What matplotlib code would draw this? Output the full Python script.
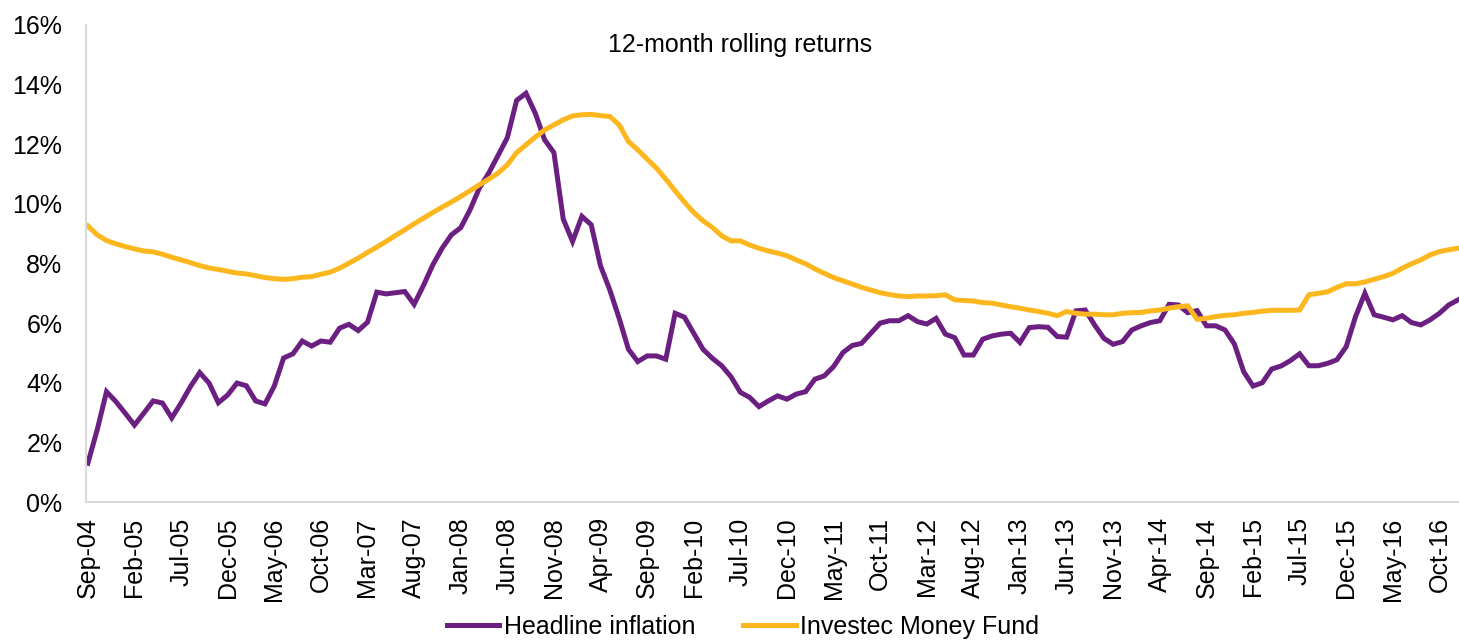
import matplotlib
matplotlib.use("Agg")
import matplotlib.pyplot as plt
import pandas as pd
from matplotlib.ticker import FuncFormatter, MultipleLocator

# Monthly categories Sep-04 .. Dec-16
months = pd.date_range("2004-09-01", periods=148, freq="MS")
month_labels = [d.strftime("%b-%y") for d in months]

headline_inflation = [
    1.30, 2.42, 3.70, 3.37, 2.98, 2.58, 2.98, 3.39, 3.32, 2.82,
    3.32, 3.87, 4.34, 3.99, 3.33, 3.59, 3.99, 3.90, 3.39, 3.29,
    3.89, 4.83, 4.97, 5.40, 5.23, 5.40, 5.36, 5.83, 5.96, 5.75,
    6.03, 7.04, 6.98, 7.02, 7.06, 6.63, 7.26, 7.95, 8.51, 8.96,
    9.20, 9.80, 10.53, 11.03, 11.62, 12.22, 13.47, 13.71, 13.04, 12.15,
    11.72, 9.49, 8.74, 9.58, 9.30, 7.92, 7.11, 6.16, 5.12, 4.71,
    4.90, 4.90, 4.79, 6.33, 6.20, 5.66, 5.12, 4.82, 4.57, 4.20,
    3.68, 3.51, 3.20, 3.39, 3.56, 3.45, 3.62, 3.70, 4.12, 4.23,
    4.54, 5.01, 5.25, 5.32, 5.66, 6.00, 6.08, 6.08, 6.25, 6.05,
    5.97, 6.16, 5.63, 5.51, 4.93, 4.93, 5.46, 5.57, 5.63, 5.66,
    5.35, 5.85, 5.88, 5.86, 5.55, 5.53, 6.41, 6.44, 5.94, 5.49,
    5.29, 5.38, 5.77, 5.91, 6.02, 6.08, 6.63, 6.61, 6.35, 6.42,
    5.91, 5.91, 5.77, 5.30, 4.37, 3.89, 4.00, 4.46, 4.56, 4.74,
    4.97, 4.57, 4.57, 4.65, 4.77, 5.21, 6.22, 7.00, 6.28, 6.20,
    6.11, 6.25, 6.02, 5.94, 6.11, 6.33, 6.61, 6.78,
]

money_fund = [
    9.26, 8.96, 8.77, 8.66, 8.57, 8.49, 8.42, 8.39, 8.31, 8.21,
    8.12, 8.03, 7.93, 7.85, 7.80, 7.74, 7.68, 7.65, 7.59, 7.53,
    7.49, 7.47, 7.49, 7.54, 7.56, 7.64, 7.71, 7.84, 8.01, 8.18,
    8.37, 8.55, 8.74, 8.94, 9.13, 9.33, 9.52, 9.71, 9.89, 10.06,
    10.25, 10.44, 10.64, 10.83, 11.03, 11.31, 11.72, 11.98, 12.24, 12.48,
    12.65, 12.82, 12.95, 12.99, 13.00, 12.96, 12.93, 12.65, 12.09, 11.81,
    11.50, 11.20, 10.83, 10.44, 10.06, 9.71, 9.43, 9.21, 8.93, 8.76,
    8.76, 8.62, 8.51, 8.42, 8.35, 8.26, 8.12, 7.99, 7.82, 7.67,
    7.53, 7.42, 7.31, 7.20, 7.11, 7.02, 6.96, 6.91, 6.89, 6.91,
    6.91, 6.92, 6.95, 6.78, 6.76, 6.74, 6.69, 6.67, 6.61, 6.55,
    6.50, 6.44, 6.39, 6.33, 6.25, 6.39, 6.33, 6.30, 6.30, 6.28,
    6.28, 6.33, 6.35, 6.36, 6.41, 6.44, 6.50, 6.55, 6.58, 6.13,
    6.16, 6.22, 6.26, 6.28, 6.33, 6.36, 6.40, 6.43, 6.43, 6.43,
    6.44, 6.95, 7.00, 7.05, 7.20, 7.32, 7.32, 7.38, 7.47, 7.56,
    7.67, 7.84, 7.99, 8.12, 8.29, 8.40, 8.46, 8.51,
]

series_names = ["Headline inflation", "Investec Money Fund"]
title_text = "12-month rolling returns"

PURPLE = "#6B1F80"
ORANGE = "#FDB71E"
GRID = "#D9D9D9"

plt.rcParams["font.family"] = ["Liberation Sans", "DejaVu Sans"]

fig = plt.figure(figsize=(14.59, 6.42), dpi=100)
W, H = 1459, 642
ax = fig.add_axes([86 / W, 1 - 502 / H, (1459 - 86) / W, (502 - 25) / H])

x = list(range(len(months)))
ax.plot(x, headline_inflation, color=PURPLE, lw=3.6, label=series_names[0],
        solid_joinstyle="miter", clip_on=False)
ax.plot(x, money_fund, color=ORANGE, lw=3.6, label=series_names[1],
        solid_joinstyle="miter", clip_on=False)

ax.set_xlim(-0.2, 147.1)
ax.set_ylim(0, 16)
ax.yaxis.set_major_locator(MultipleLocator(2))
ax.yaxis.set_major_formatter(FuncFormatter(lambda v, p: f"{v:.0f}%"))

tick_pos = list(range(0, len(months), 5))
ax.set_xticks(tick_pos)
ax.set_xticklabels([month_labels[i] for i in tick_pos], rotation=90)

ax.tick_params(axis="both", length=0, labelsize=18, colors="black")
ax.tick_params(axis="y", pad=17)
ax.tick_params(axis="x", pad=11)

for s in ["top", "right"]:
    ax.spines[s].set_visible(False)
for s in ["left", "bottom"]:
    ax.spines[s].set_color(GRID)
    ax.spines[s].set_linewidth(1.5)

ax.text(740 / W, 1 - 45 / H, title_text, transform=fig.transFigure,
        ha="center", va="center", fontsize=18)

fig.legend(loc="center", bbox_to_anchor=(743 / W, 1 - 627 / H), ncol=2,
           frameon=False, fontsize=18, handlelength=2.1, handletextpad=0.2,
           columnspacing=1.9, borderpad=0, borderaxespad=0)

fig.savefig("out.png", dpi=100)
